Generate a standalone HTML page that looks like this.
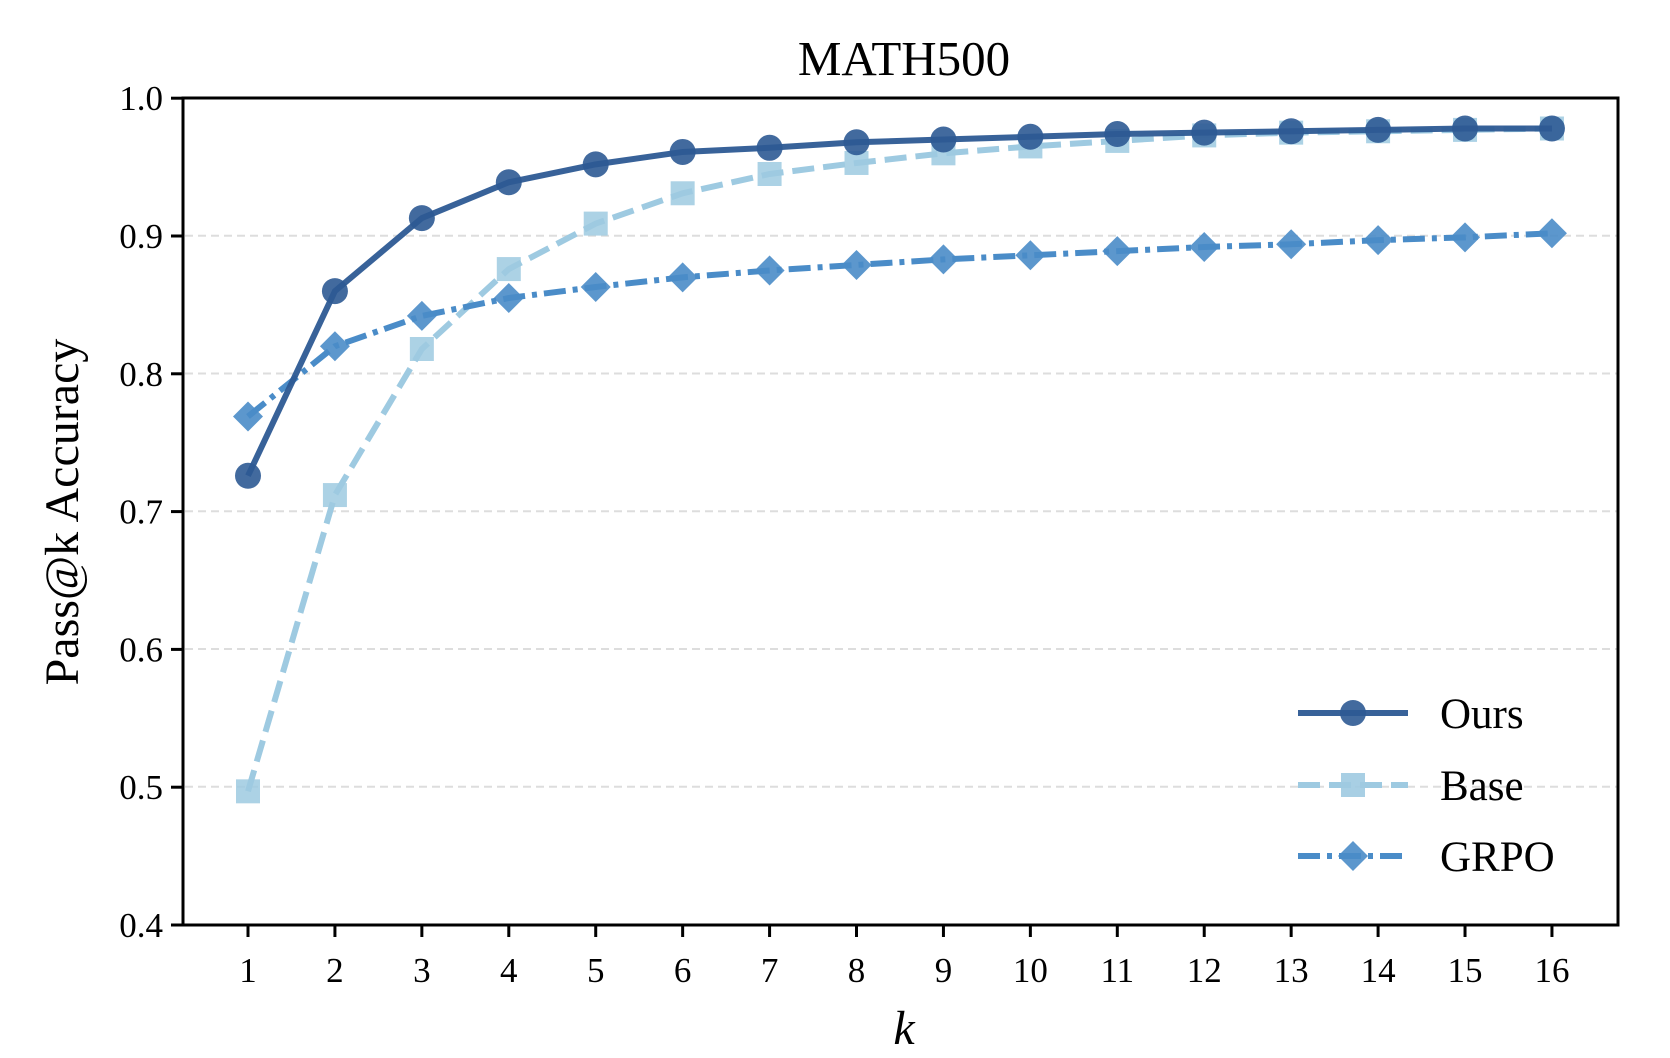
<!DOCTYPE html>
<html><head><style>body{margin:0;background:#fff}svg{display:block}text{font-family:"Liberation Serif",serif;fill:#000}</style></head>
<body>
<svg width="1670" height="1058" viewBox="0 0 1670 1058" xmlns="http://www.w3.org/2000/svg">
<g stroke="#dddddd" stroke-width="2" stroke-dasharray="8,5">
<line x1="185" x2="1617" y1="235.7" y2="235.7"/><line x1="185" x2="1617" y1="373.5" y2="373.5"/><line x1="185" x2="1617" y1="511.3" y2="511.3"/><line x1="185" x2="1617" y1="649" y2="649"/><line x1="185" x2="1617" y1="786.8" y2="786.8"/>
</g>
<g id="plot"></g>
<rect x="183" y="98" width="1435" height="827" fill="none" stroke="#000" stroke-width="3"/>
<g stroke="#000" stroke-width="3" id="ticks"></g>
<g font-size="35" text-anchor="end" id="yl"></g>
<g font-size="35" text-anchor="middle" id="xl"></g>
<text x="904" y="75" font-size="49" text-anchor="middle">MATH500</text>
<text x="904" y="1044" font-size="48" font-style="italic" text-anchor="middle">k</text>
<text transform="translate(78,512) rotate(-90)" font-size="48" text-anchor="middle">Pass@k Accuracy</text>
<g font-size="43">
<line x1="1298" x2="1408" y1="713" y2="713" stroke="#2d5a93" stroke-opacity="0.95" stroke-width="6"/><circle cx="1353" cy="713" r="13" fill="#2d5a93" fill-opacity="0.9"/><text x="1440" y="728">Ours</text>
<line x1="1298" x2="1408" y1="785" y2="785" stroke="#9ecae1" stroke-width="6" stroke-dasharray="22,9"/><rect x="1341" y="773" width="24" height="24" fill="#9ecae1" fill-opacity="0.9"/><text x="1440" y="800">Base</text>
<line x1="1298" x2="1408" y1="856" y2="856" stroke="#4a8cc8" stroke-width="6" stroke-dasharray="22,7,5,7"/><path d="M1353 841 L1368 856 L1353 871 L1338 856Z" fill="#4a8cc8" fill-opacity="0.9"/><text x="1440" y="871">GRPO</text>
</g>
</svg>
<script>
const X=k=>248+(k-1)*86.93, Y=v=>925-(v-0.4)*1378;
const ours=[.726,.860,.913,.939,.952,.961,.964,.968,.970,.972,.974,.975,.976,.977,.978,.978];
const base=[.497,.712,.818,.876,.909,.931,.945,.953,.960,.965,.969,.973,.975,.976,.977,.978];
const grpo=[.769,.820,.842,.855,.863,.870,.875,.879,.883,.886,.889,.892,.894,.897,.899,.902];
let s='';const pts=a=>a.map((v,i)=>X(i+1)+','+Y(v)).join(' ');
s+=`<polyline points="${pts(base)}" fill="none" stroke="#9ecae1" stroke-width="6" stroke-dasharray="22,9"/>`;
base.forEach((v,i)=>s+=`<rect x="${X(i+1)-12}" y="${Y(v)-12}" width="24" height="24" fill="#9ecae1" fill-opacity="0.85"/>`);
s+=`<polyline points="${pts(grpo)}" fill="none" stroke="#4a8cc8" stroke-width="6" stroke-dasharray="22,7,5,7"/>`;
grpo.forEach((v,i)=>{const x=X(i+1),y=Y(v);s+=`<path d="M${x} ${y-15}L${x+15} ${y}L${x} ${y+15}L${x-15} ${y}Z" fill="#4a8cc8" fill-opacity="0.9"/>`});
s+=`<polyline points="${pts(ours)}" fill="none" stroke="#2d5a93" stroke-opacity="0.95" stroke-width="6"/>`;
ours.forEach((v,i)=>s+=`<circle cx="${X(i+1)}" cy="${Y(v)}" r="13" fill="#2d5a93" fill-opacity="0.9"/>`);
document.getElementById('plot').innerHTML=s;
let t='',yl='',xl='';
for(let i=0;i<=6;i++){const v=0.4+i*0.1,y=Y(v);t+=`<line x1="171" x2="183" y1="${y}" y2="${y}"/>`;yl+=`<text x="163" y="${y+12}">${v.toFixed(1)}</text>`}
for(let k=1;k<=16;k++){const x=X(k);t+=`<line x1="${x}" x2="${x}" y1="925" y2="937"/>`;xl+=`<text x="${x}" y="982">${k}</text>`}
document.getElementById('ticks').innerHTML=t;document.getElementById('yl').innerHTML=yl;document.getElementById('xl').innerHTML=xl;
</script>
</body></html>
